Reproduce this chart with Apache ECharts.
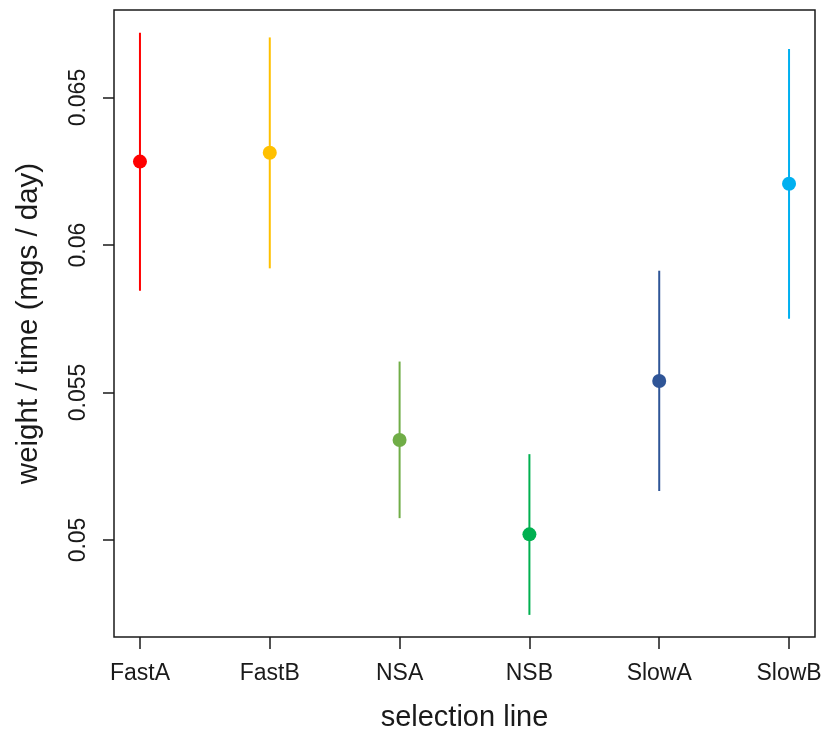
<!DOCTYPE html>
<html>
<head>
<meta charset="utf-8">
<script src="https://cdn.jsdelivr.net/npm/echarts@6/dist/echarts.min.js"></script>
<style>
  html, body { margin: 0; padding: 0; background: #ffffff; }
  #chart { width: 826px; height: 736px; }
</style>
</head>
<body>
<div id="chart"></div>
<script>
// Growth rate per selection line: mean with interval bounds
const categories = ['FastA', 'FastB', 'NSA', 'NSB', 'SlowA', 'SlowB'];
const means = [0.06283, 0.06313, 0.05339, 0.05019, 0.05539, 0.06208];
const lower = [0.05845, 0.05921, 0.05074, 0.04746, 0.05166, 0.05750];
const upper = [0.06720, 0.06704, 0.05605, 0.05291, 0.05913, 0.06665];
const colors = ['#FF0000', '#FFC000', '#70AD47', '#00B050', '#2F5597', '#00B0F0'];
const yTicks = [0.05, 0.055, 0.06, 0.065];

const positions = categories.map((c, i) => i + 1);
const FONT = "'Liberation Sans', Arial, Helvetica, sans-serif";
const INK = '#1a1a1a';

const intervalData = categories.map((c, i) => [positions[i], lower[i], upper[i]]);
const pointData = categories.map((c, i) => ({
  value: [positions[i], means[i]],
  itemStyle: { color: colors[i], opacity: 1 }
}));

const chart = echarts.init(document.getElementById('chart'), null, { renderer: 'canvas' });
chart.setOption({
  animation: false,
  backgroundColor: '#ffffff',
  grid: {
    left: 114, right: 11, top: 10, bottom: 99,
    outerBoundsMode: 'none',
    containLabel: false,
    show: true, borderColor: INK, borderWidth: 1.5, backgroundColor: 'transparent'
  },
  xAxis: {
    type: 'value',
    min: 0.8, max: 6.2,
    name: 'selection line',
    nameLocation: 'middle',
    nameGap: 66,
    nameTextStyle: { fontFamily: FONT, fontSize: 29, color: INK },
    axisLine: { show: false },
    splitLine: { show: false },
    axisTick: {
      show: true, inside: false, length: 12,
      customValues: positions,
      lineStyle: { color: INK, width: 1.5 }
    },
    axisLabel: {
      customValues: positions,
      margin: 25,
      fontFamily: FONT, fontSize: 23, color: INK,
      formatter: v => categories[Math.round(v) - 1]
    }
  },
  yAxis: {
    type: 'value',
    min: 0.04671, max: 0.06797,
    name: 'weight / time (mgs / day)',
    nameLocation: 'middle',
    nameGap: 70,
    nameTextStyle: { fontFamily: FONT, fontSize: 29.5, color: INK },
    axisLine: { show: false },
    splitLine: { show: false },
    axisTick: {
      show: true, inside: false, length: 11,
      customValues: yTicks,
      lineStyle: { color: INK, width: 1.5 }
    },
    axisLabel: {
      customValues: yTicks,
      rotate: 90,
      margin: 24,
      fontFamily: FONT, fontSize: 23, color: INK,
      formatter: v => String(v)
    }
  },
  series: [
    {
      type: 'custom',
      data: intervalData,
      renderItem: (params, api) => {
        const x = api.value(0);
        const p1 = api.coord([x, api.value(1)]);
        const p2 = api.coord([x, api.value(2)]);
        return {
          type: 'line',
          shape: { x1: p1[0], y1: p1[1], x2: p2[0], y2: p2[1] },
          style: { stroke: colors[params.dataIndex], lineWidth: 2 }
        };
      },
      z: 2
    },
    {
      type: 'scatter',
      data: pointData,
      symbol: 'circle',
      symbolSize: 14,
      z: 3
    }
  ]
});
</script>
</body>
</html>
